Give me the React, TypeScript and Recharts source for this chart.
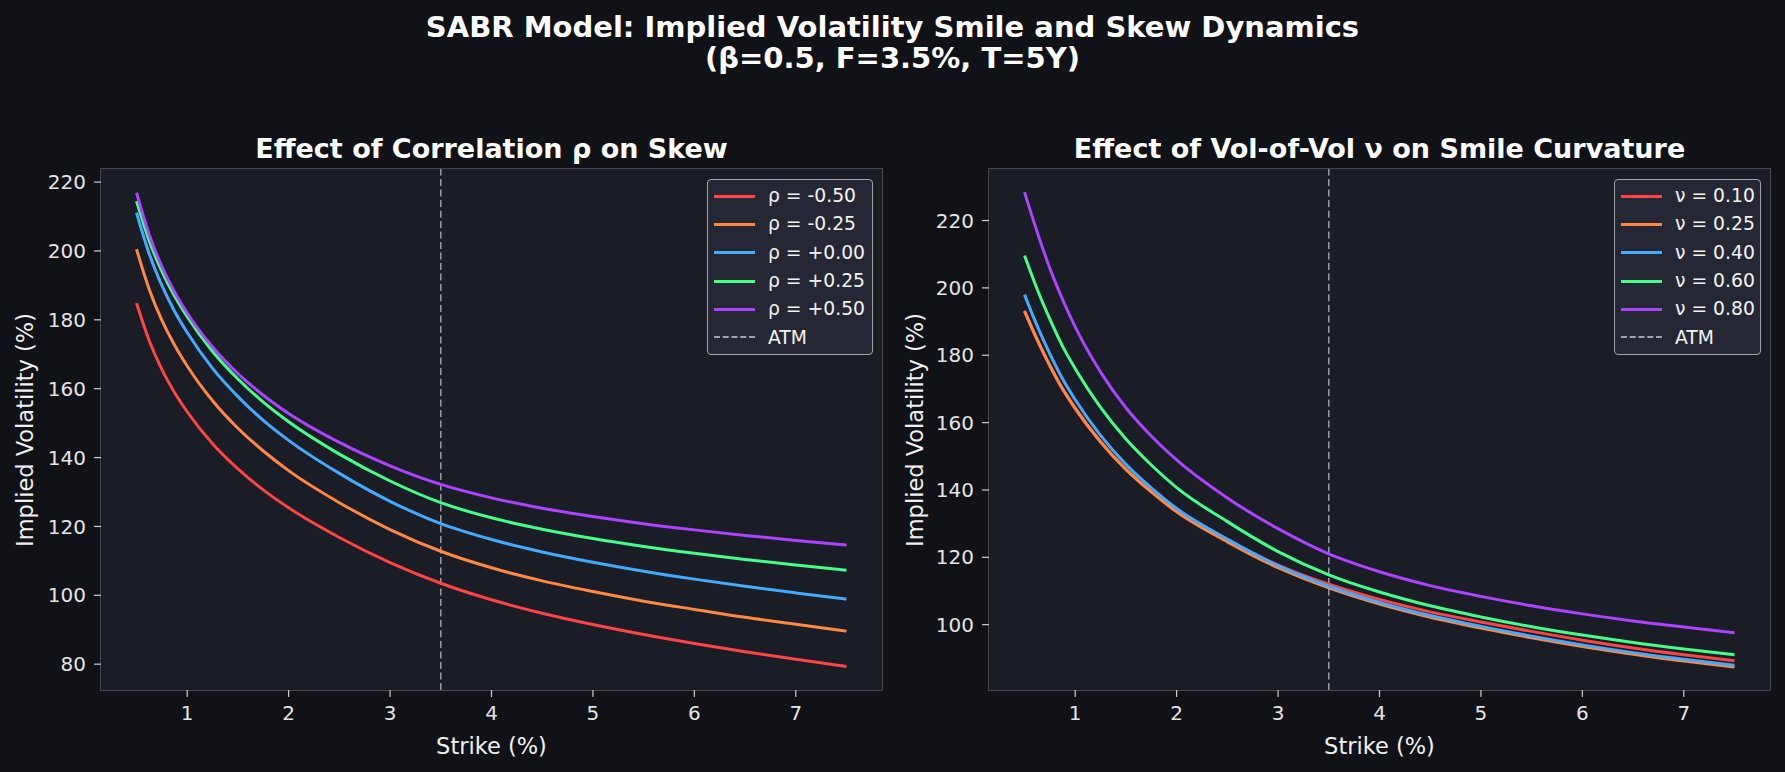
import React from "react";
import { LineChart, Line, XAxis, YAxis, ReferenceLine } from "recharts";

// strike grid (%), shared by both panels (denser where the curves are steep)
const strikes = [0.5, 0.625, 0.75, 0.875, 1, 1.25, 1.5, 1.75, 2, 2.5, 3, 3.5, 4, 4.5, 5, 5.5, 6, 6.5, 7, 7.5];

// left panel: implied vol (%) by correlation
const rhoM050 = [184.9, 174.0, 165.6, 158.9, 153.3, 144.0, 136.7, 130.6, 125.4, 116.8, 109.5, 103.5, 98.7, 94.8, 91.5, 88.6, 86.0, 83.6, 81.4, 79.3];
const rhoM025 = [200.5, 188.9, 179.9, 172.7, 166.6, 156.5, 148.5, 141.9, 136.2, 126.9, 119.1, 112.8, 108.0, 104.2, 101.1, 98.3, 95.9, 93.6, 91.6, 89.6];
const rhoP000 = [211.1, 199.2, 190.0, 182.5, 176.3, 165.9, 157.7, 150.8, 145.0, 135.4, 127.3, 120.8, 116.2, 112.6, 109.6, 107.0, 104.7, 102.6, 100.7, 98.9];
const rhoP025 = [214.5, 203.0, 194.1, 186.9, 180.9, 170.8, 162.8, 156.1, 150.4, 141.0, 133.2, 126.9, 122.5, 119.2, 116.5, 114.2, 112.2, 110.4, 108.8, 107.3];
const rhoP050 = [216.9, 204.8, 195.5, 188.1, 182.0, 172.1, 164.4, 158.1, 152.8, 144.4, 137.6, 132.2, 128.3, 125.3, 122.9, 120.8, 119.0, 117.4, 115.9, 114.6];

// right panel: implied vol (%) by vol-of-vol
const nu010 = [193.0, 184.5, 176.8, 169.9, 164.1, 154.2, 146.1, 139.5, 133.7, 125.1, 117.7, 112.0, 107.5, 103.8, 100.8, 98.0, 95.4, 93.1, 91.1, 89.3];
const nu025 = [193.2, 184.7, 177.0, 170.1, 164.3, 154.3, 146.1, 139.4, 133.5, 124.6, 116.9, 110.9, 106.1, 102.2, 99.0, 96.1, 93.5, 91.2, 89.2, 87.4];
const nu040 = [198.0, 188.7, 180.4, 173.0, 166.8, 156.2, 147.6, 140.6, 134.5, 125.4, 117.5, 111.4, 106.6, 102.7, 99.5, 96.6, 94.0, 91.7, 89.7, 87.9];
const nu060 = [209.6, 199.6, 190.7, 182.7, 176.0, 164.5, 155.1, 147.4, 140.7, 130.6, 121.7, 114.8, 109.7, 105.6, 102.3, 99.4, 96.9, 94.7, 92.8, 91.1];
const nu080 = [228.4, 216.6, 205.8, 196.6, 188.4, 175.0, 164.4, 156.0, 148.9, 137.6, 128.5, 121.0, 115.7, 111.6, 108.4, 105.6, 103.2, 101.1, 99.3, 97.6];

const atmStrike = 3.5;
const xTicks = [1, 2, 3, 4, 5, 6, 7];
const leftYTicks = [80, 100, 120, 140, 160, 180, 200, 220];
const rightYTicks = [100, 120, 140, 160, 180, 200, 220];

const COLORS = ["#ff4444", "#ff8844", "#44aaff", "#44ff88", "#aa44ff"];
const rhoLabels = ["ρ = -0.50", "ρ = -0.25", "ρ = +0.00", "ρ = +0.25", "ρ = +0.50"];
const nuLabels = ["ν = 0.10", "ν = 0.25", "ν = 0.40", "ν = 0.60", "ν = 0.80"];

const FONT = "'DejaVu Sans', sans-serif";
const BG = "#111217";
const PLOT_BG = "#1a1c26";

const rhoRows = strikes.map((k, i) => ({
  k,
  s0: rhoM050[i],
  s1: rhoM025[i],
  s2: rhoP000[i],
  s3: rhoP025[i],
  s4: rhoP050[i],
}));

const nuRows = strikes.map((k, i) => ({
  k,
  s0: nu010[i],
  s1: nu025[i],
  s2: nu040[i],
  s3: nu060[i],
  s4: nu080[i],
}));

interface PanelProps {
  left: number;
  width: number;
  yAxisWidth: number;
  rightMargin: number;
  data: { k: number; [key: string]: number }[];
  yDomain: [number, number];
  yTicks: number[];
  title: string;
  labels: string[];
  legendWidth: number;
}

const PLOT_TOP = 169;
const PLOT_BOTTOM = 690;
const H = 772;

function Panel({ left, width, yAxisWidth, rightMargin, data, yDomain, yTicks, title, labels, legendWidth }: PanelProps) {
  const plotLeft = left + yAxisWidth;
  const plotRight = left + width - rightMargin;
  const plotW = plotRight - plotLeft;
  const cx = (plotLeft + plotRight) / 2;
  const tickStyle = { fontSize: 20, fill: "#e4e4e4", fontFamily: FONT };

  return (
    <>
      {/* axes face + frame */}
      <div
        style={{
          position: "absolute",
          left: plotLeft - 1,
          top: PLOT_TOP - 1,
          width: plotW,
          height: PLOT_BOTTOM - PLOT_TOP,
          background: PLOT_BG,
          border: "1.5px solid #45464e",
        }}
      />
      <div style={{ position: "absolute", left, top: 0 }}>
        <LineChart
          width={width}
          height={H}
          data={data}
          margin={{ top: PLOT_TOP, right: rightMargin, bottom: H - PLOT_BOTTOM - 70, left: 0 }}
        >
          <XAxis
            dataKey="k"
            type="number"
            domain={[0.15, 7.85]}
            ticks={xTicks}
            height={70}
            axisLine={false}
            tickLine={{ stroke: "#d0d0d0", strokeWidth: 1.2 }}
            tickSize={7}
            tickMargin={9}
            tick={tickStyle}
            allowDataOverflow
          />
          <YAxis
            type="number"
            domain={yDomain}
            ticks={yTicks}
            width={yAxisWidth}
            axisLine={false}
            tickLine={{ stroke: "#d0d0d0", strokeWidth: 1.2 }}
            tickSize={7}
            tickMargin={8}
            tick={tickStyle}
            allowDataOverflow
          />
          <ReferenceLine x={atmStrike} stroke="#9a9ca6" strokeWidth={1.5} strokeDasharray="7 3.5" />
          {["s0", "s1", "s2", "s3", "s4"].map((key, i) => (
            <Line
              key={key}
              type="monotone"
              dataKey={key}
              stroke={COLORS[i]}
              strokeWidth={3}
              dot={false}
              isAnimationActive={false}
            />
          ))}
        </LineChart>
      </div>

      {/* panel title */}
      <div
        style={{
          position: "absolute",
          left: cx - 400,
          width: 800,
          top: 134,
          lineHeight: "30px",
          textAlign: "center",
          fontSize: 27,
          fontWeight: 700,
          color: "#ffffff",
        }}
      >
        {title}
      </div>

      {/* x label */}
      <div
        style={{
          position: "absolute",
          left: cx - 200,
          width: 400,
          top: 731,
          lineHeight: "30px",
          textAlign: "center",
          fontSize: 22.5,
          color: "#f0f0f0",
        }}
      >
        Strike (%)
      </div>

      {/* y label */}
      <div
        style={{
          position: "absolute",
          left: left + 25 - 200,
          width: 400,
          top: (PLOT_TOP + PLOT_BOTTOM) / 2 - 15,
          lineHeight: "30px",
          textAlign: "center",
          fontSize: 22.5,
          color: "#f0f0f0",
          transform: "rotate(-90deg)",
        }}
      >
        Implied Volatility (%)
      </div>

      <LegendBox right={plotRight - 9} width={legendWidth} labels={labels} />
    </>
  );
}

function LegendBox({ right, width, labels }: { right: number; width: number; labels: string[] }) {
  const rows = [...labels.map((l, i) => ({ label: l, color: COLORS[i], dashed: false })), { label: "ATM", color: "#a0a0a8", dashed: true }];
  return (
    <div
      style={{
        position: "absolute",
        left: right - width,
        top: 179,
        width,
        height: 176,
        boxSizing: "border-box",
        background: "#252834",
        border: "1.5px solid #a4a4a8",
        borderRadius: 4,
      }}
    >
      {rows.map((r, i) => (
        <div key={r.label} style={{ position: "absolute", left: 0, top: 16 + i * 28.35 - 14, height: 28, width: "100%" }}>
          <span
            style={{
              position: "absolute",
              left: 6,
              top: 12.5,
              width: 41,
              height: 0,
              borderTop: r.dashed ? `2px dashed ${r.color}` : `3.5px solid ${r.color}`,
            }}
          />
          <span
            style={{
              position: "absolute",
              left: 60,
              top: 0,
              lineHeight: "28px",
              fontSize: 18.75,
              color: "#f2f2f2",
              whiteSpace: "nowrap",
            }}
          >
            {r.label}
          </span>
        </div>
      ))}
    </div>
  );
}

const titleLine = {
  position: "absolute" as const,
  left: 0,
  width: 1785,
  textAlign: "center" as const,
  fontSize: 29,
  lineHeight: "31px",
  fontWeight: 700,
  color: "#ffffff",
};

export default function App() {
  return (
    <div
      style={{
        position: "fixed",
        left: 0,
        top: 0,
        width: 1785,
        height: 772,
        background: BG,
        fontFamily: FONT,
        overflow: "hidden",
      }}
    >
      <div style={{ ...titleLine, top: 11.5 }}>SABR Model: Implied Volatility Smile and Skew Dynamics</div>
      <div style={{ ...titleLine, top: 42.5 }}>(β=0.5, F=3.5%, T=5Y)</div>

      <Panel
        left={0}
        width={890}
        yAxisWidth={101}
        rightMargin={8}
        data={rhoRows}
        yDomain={[72.5, 223.8]}
        yTicks={leftYTicks}
        title="Effect of Correlation ρ on Skew"
        labels={rhoLabels}
        legendWidth={166}
      />
      <Panel
        left={890}
        width={895}
        yAxisWidth={99}
        rightMargin={15}
        data={nuRows}
        yDomain={[80.6, 235.3]}
        yTicks={rightYTicks}
        title="Effect of Vol-of-Vol ν on Smile Curvature"
        labels={nuLabels}
        legendWidth={147}
      />
    </div>
  );
}
